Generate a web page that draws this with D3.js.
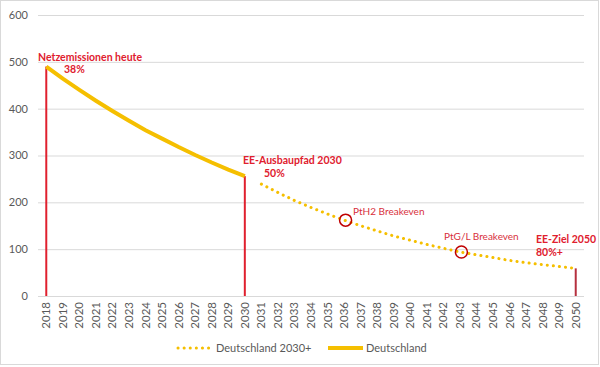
<!DOCTYPE html>
<html>
<head>
<meta charset="utf-8">
<script src="https://cdn.jsdelivr.net/npm/d3@7"></script>
<style>
  body { margin: 0; background: #fff; }
  svg { display: block; font-family: Lato, "Open Sans", sans-serif; }
</style>
</head>
<body>
<script>
// data
const years = d3.range(2018, 2051).map(String);
const yTicks = [0, 100, 200, 300, 400, 500, 600];

const deutschland = [
  ["2018", 490], ["2019", 464], ["2020", 440], ["2021", 417], ["2022", 395],
  ["2023", 374], ["2024", 354], ["2025", 336], ["2026", 318], ["2027", 301],
  ["2028", 285], ["2029", 270], ["2030", 256]
];
const deutschland2030 = [
  ["2031", 239], ["2032", 221], ["2033", 204], ["2034", 189], ["2035", 175],
  ["2036", 162], ["2037", 150], ["2038", 139], ["2039", 128], ["2040", 119],
  ["2041", 110], ["2042", 102], ["2043", 94], ["2044", 88], ["2045", 82],
  ["2046", 76], ["2047", 71], ["2048", 67], ["2049", 63], ["2050", 59]
];
const markers = [["2018", 490], ["2030", 256], ["2050", 59]];
const breakevens = [["2036", 162], ["2043", 94]];

const width = 600, height = 367;
const gold = "#f5bf00", red = "#e0202e", grey = "#595959";

const svg = d3.select("body").append("svg")
    .attr("width", width)
    .attr("height", height);

svg.append("rect")
    .attr("x", 0.5).attr("y", 0.5)
    .attr("width", width - 2).attr("height", height - 3)
    .attr("fill", "#fff")
    .attr("stroke", "#d9d9d9");

const x = d3.scaleBand().domain(years).range([38, 584]);
const cx = d => x(d) + x.bandwidth() / 2;
const y = d3.scaleLinear().domain([0, 600]).range([296, 15]);

// gridlines
svg.append("g").selectAll("line")
    .data(yTicks)
    .enter().append("line")
    .attr("x1", 38).attr("x2", 584)
    .attr("y1", d => y(d) + 0.5).attr("y2", d => y(d) + 0.5)
    .attr("stroke", "#d9d9d9");

// y labels
svg.append("g").selectAll("text")
    .data(yTicks)
    .enter().append("text")
    .attr("x", 28).attr("y", d => y(d))
    .attr("dy", "0.35em")
    .attr("text-anchor", "end")
    .attr("font-size", 11)
    .attr("fill", grey)
    .text(d => d);

// x labels
svg.append("g").selectAll("text")
    .data(years)
    .enter().append("text")
    .attr("transform", d => `translate(${cx(d)},302) rotate(-90)`)
    .attr("dy", "0.35em")
    .attr("text-anchor", "end")
    .attr("font-size", 11.5)
    .attr("fill", grey)
    .text(d => d);

// vertical red markers
svg.append("g").selectAll("line")
    .data(markers)
    .enter().append("line")
    .attr("x1", d => cx(d[0])).attr("x2", d => cx(d[0]))
    .attr("y1", d => y(d[1])).attr("y2", y(0))
    .attr("stroke", (d, i) => i === 2 ? "#b5303f" : red)
    .attr("stroke-width", 2);

const line = d3.line()
    .x(d => cx(d[0]))
    .y(d => y(d[1]));

svg.append("path")
    .datum(deutschland2030)
    .attr("fill", "none")
    .attr("stroke", gold)
    .attr("stroke-width", 3)
    .attr("stroke-linecap", "round")
    .attr("stroke-dasharray", "0.1 6")
    .attr("d", line);

svg.append("path")
    .datum(deutschland)
    .attr("fill", "none")
    .attr("stroke", gold)
    .attr("stroke-width", 4)
    .attr("d", line);

// breakeven circles
svg.append("g").selectAll("circle")
    .data(breakevens)
    .enter().append("circle")
    .attr("cx", d => cx(d[0]) + 1.5)
    .attr("cy", d => y(d[1]))
    .attr("r", 6)
    .attr("fill", "none")
    .attr("stroke", "#c00000")
    .attr("stroke-width", 1.5);

// small labels
const smallNotes = [
  ["PtH2 Breakeven", 353, 215],
  ["PtG/L Breakeven", 444, 240]
];
svg.append("g").selectAll("text")
    .data(smallNotes)
    .enter().append("text")
    .attr("x", d => d[1]).attr("y", d => d[2])
    .attr("font-size", 10)
    .attr("fill", "#d8303c")
    .text(d => d[0]);

// bold annotations
const notes = [
  ["Netzemissionen heute", 38, 61],
  ["38%", 64, 73],
  ["EE-Ausbaupfad 2030", 243, 164],
  ["50%", 264, 177],
  ["EE-Ziel 2050", 536, 243],
  ["80%+", 536, 256]
];
svg.append("g").selectAll("text")
    .data(notes)
    .enter().append("text")
    .attr("x", d => d[1]).attr("y", d => d[2])
    .attr("font-size", 10.5)
    .attr("font-weight", "bold")
    .attr("fill", red)
    .text(d => d[0]);

// legend
const legend = svg.append("g").attr("font-size", 11).attr("fill", grey);
legend.append("line")
    .attr("x1", 178).attr("x2", 212).attr("y1", 348).attr("y2", 348)
    .attr("stroke", gold).attr("stroke-width", 3)
    .attr("stroke-linecap", "round").attr("stroke-dasharray", "0.1 6");
legend.append("text").attr("x", 216).attr("y", 348).attr("dy", "0.35em")
    .text("Deutschland 2030+");
legend.append("line")
    .attr("x1", 328).attr("x2", 363).attr("y1", 348).attr("y2", 348)
    .attr("stroke", gold).attr("stroke-width", 4);
legend.append("text").attr("x", 366).attr("y", 348).attr("dy", "0.35em")
    .text("Deutschland");
</script>
</body>
</html>
